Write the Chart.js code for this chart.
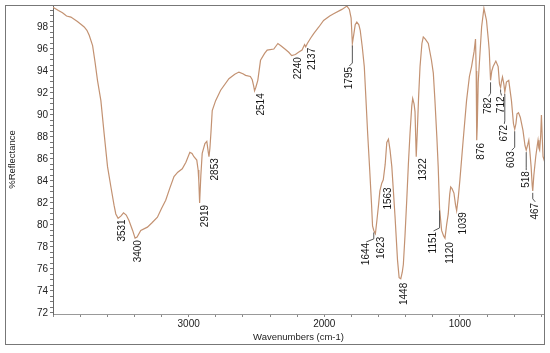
<!DOCTYPE html>
<html>
<head>
<meta charset="utf-8">
<script src="https://cdn.jsdelivr.net/npm/chart.js@4.4.1/dist/chart.umd.min.js"></script>
<style>
  html, body { margin: 0; padding: 0; background: #fff; }
  #wrap { width: 550px; height: 353px; position: relative; }
</style>
</head>
<body>
<div id="wrap"><canvas id="irChart"></canvas></div>
<script>
// spectrum (cm-1 / %R)
const wavenumbers = [
  4000, 3960, 3930, 3900, 3868, 3820, 3790, 3770, 3750, 3733, 3708, 3690, 3672, 3647, 3623, 3598, 3573, 3550, 3537, 3520,
  3500, 3480, 3460, 3440, 3413, 3395, 3380, 3353, 3304, 3270, 3230, 3200, 3169, 3140, 3108, 3080, 3047, 3020, 2991, 2975,
  2961, 2940, 2930, 2925, 2919, 2910, 2900, 2880, 2866, 2855, 2850, 2843, 2835, 2826, 2801, 2764, 2703, 2660, 2629, 2600,
  2580, 2545, 2531, 2520, 2514, 2505, 2490, 2470, 2440, 2421, 2372, 2342, 2320, 2290, 2262, 2240, 2213, 2190, 2164, 2145,
  2137, 2125, 2100, 2078, 2040, 2005, 1960, 1931, 1870, 1833, 1815, 1802, 1793, 1784, 1772, 1760, 1745, 1735, 1720, 1705,
  1693, 1680, 1665, 1652, 1644, 1635, 1623, 1612, 1600, 1590, 1576, 1565, 1551, 1539, 1527, 1515, 1502, 1490, 1478, 1460,
  1448, 1436, 1425, 1417, 1405, 1392, 1380, 1368, 1355, 1348, 1338, 1331, 1322, 1314, 1305, 1294, 1280, 1270, 1255, 1233,
  1210, 1196, 1184, 1170, 1160, 1150, 1135, 1120, 1110, 1098, 1086, 1075, 1068, 1058, 1044, 1032, 1024, 1012, 1000, 976,
  951, 930, 914, 895, 885, 880, 876, 872, 865, 858, 840, 823, 804, 790, 784, 774, 765, 755, 735, 718,
  708, 700, 694, 686, 676, 669, 662, 657, 640, 620, 605, 596, 587, 579, 568, 555, 535, 520, 511, 500,
  492, 483, 475, 467, 463, 455, 441, 430, 424, 418, 412, 405, 399, 393, 387, 382
];
const reflectance = [
  99.8, 99.5, 99.3, 99.0, 98.9, 98.5, 98.2, 98.0, 97.7, 97.25, 96.3, 94.8, 93.15, 91.3, 88.3, 85.3, 83.45, 81.8, 81.0, 80.6,
  80.8, 81.1, 80.9, 80.4, 79.5, 78.8, 78.9, 79.5, 79.8, 80.2, 80.7, 81.5, 82.25, 83.3, 84.4, 84.8, 85.1, 85.7, 86.6, 86.5,
  86.2, 85.9, 85.0, 84.0, 82.0, 84.5, 86.5, 87.4, 87.6, 86.6, 86.2, 87.0, 88.5, 90.4, 91.3, 92.25, 93.3, 93.7, 93.9, 93.75,
  93.6, 93.5, 93.2, 92.6, 92.2, 92.5, 93.15, 94.97, 95.6, 95.9, 96.0, 96.5, 96.3, 96.0, 95.7, 95.4, 95.5, 95.7, 95.9, 96.4,
  96.2, 96.5, 97.0, 97.4, 98.0, 98.6, 99.0, 99.2, 99.6, 99.9, 99.6, 98.8, 96.5, 97.2, 98.2, 98.45, 98.2, 97.7, 96.2, 94.4,
  91.5, 88.3, 85.0, 82.0, 79.9, 79.5, 79.2, 80.4, 81.8, 83.1, 83.8, 84.1, 85.5, 87.5, 87.8, 86.8, 85.3, 83.0, 80.7, 76.8,
  75.2, 75.1, 75.7, 76.4, 79.0, 82.25, 85.5, 88.3, 90.8, 91.5, 91.0, 90.3, 86.2, 88.5, 91.5, 94.4, 96.5, 97.1, 96.9, 96.5,
  95.0, 93.8, 91.3, 88.0, 85.3, 81.5, 79.5, 79.0, 78.8, 80.0, 81.0, 82.8, 83.45, 83.3, 82.9, 81.8, 81.3, 82.5, 84.1, 87.7,
  91.3, 93.5, 94.4, 95.8, 96.9, 94.0, 87.7, 89.0, 93.0, 94.4, 98.0, 99.7, 98.6, 96.8, 95.9, 93.15, 94.0, 94.4, 94.9, 94.4,
  92.8, 92.5, 93.0, 93.45, 92.8, 92.1, 92.6, 93.0, 93.15, 91.3, 89.2, 88.7, 89.2, 90.1, 90.2, 89.8, 88.6, 87.2, 86.8, 87.3,
  87.7, 86.5, 85.3, 83.6, 83.1, 84.5, 86.2, 87.2, 87.7, 87.0, 86.8, 88.0, 90.0, 88.0, 86.2, 86.0
];
const peakLabels = [3531, 3400, 2919, 2853, 2514, 2240, 2137, 1795, 1644, 1623, 1563, 1448, 1322,
  1151, 1120, 1039, 876, 782, 712, 672, 603, 518, 467];
const xTickLabels = [1000, 2000, 3000];
const yTickLabels = [72, 74, 76, 78, 80, 82, 84, 86, 88, 90, 92, 94, 96, 98];

const X_MIN = 380, X_MAX = 4000, Y_MIN = 71.9, Y_MAX = 100;
const FONT = '"Liberation Sans", Arial, sans-serif';

// where each peak label sits relative to its dip: [dx, dy, leader line]
const labelOffsets = {
  3531: [4, 1], 3400: [3, 2], 2919: [5.5, 2], 2853: [6, 1.5], 2514: [6.5, 2.5],
  2240: [6.3, 1.5], 2137: [6.3, 1], 1795: [-3, 23.5, true], 1644: [-7.5, 12.5, true],
  1623: [5.5, 3], 1563: [4.7, 7.5], 1448: [3.6, 4], 1322: [6.8, 1.5],
  1151: [-6, 23.5, true], 1120: [5.7, 4], 1039: [7.2, 7], 876: [4.6, 2.7],
  782: [-2, 17, true], 712: [1, 9, true], 672: [-0.5, 33, true],
  603: [-3, 22, true], 518: [0, 21, true], 467: [2.5, 12, true]
};

// lowest traced point within a few cm-1 of the labelled band
function anchorFor(wn) {
  let best = -1;
  wavenumbers.forEach((w, i) => {
    if (Math.abs(w - wn) <= 12 && (best < 0 || reflectance[i] < reflectance[best])) best = i;
  });
  if (best < 0) {
    let d = Infinity;
    wavenumbers.forEach((w, i) => { if (Math.abs(w - wn) < d) { d = Math.abs(w - wn); best = i; } });
  }
  return { x: wavenumbers[best], y: reflectance[best] };
}

const peakLabelPlugin = {
  id: 'peakLabels',
  afterDatasetsDraw(chart) {
    const { ctx, scales: { x, y } } = chart;
    ctx.save();
    ctx.font = '10px ' + FONT;
    ctx.fillStyle = '#151515';
    ctx.strokeStyle = '#555';
    ctx.lineWidth = 1;
    peakLabels.forEach(wn => {
      const a = anchorFor(wn);
      const px = x.getPixelForValue(a.x);
      const py = y.getPixelForValue(a.y);
      const [dx, dy, leader] = labelOffsets[wn] || [5, 2];
      const lx = px + dx, ly = py + dy;
      if (leader) {
        ctx.beginPath();
        ctx.moveTo(px, py + 2);
        ctx.lineTo(px, Math.max(py + 2, ly - 4));
        ctx.lineTo(lx, ly - 1);
        ctx.stroke();
      }
      ctx.save();
      ctx.translate(lx, ly);
      ctx.rotate(-Math.PI / 2);
      ctx.textAlign = 'right';
      ctx.textBaseline = 'middle';
      ctx.fillText(String(wn), 0, 0);
      ctx.restore();
    });
    ctx.restore();
  },
  afterDraw(chart) {
    const ctx = chart.ctx;
    ctx.save();
    ctx.strokeStyle = '#777';
    ctx.lineWidth = 1;
    ctx.strokeRect(5.5, 5.5, 539, 339);
    ctx.restore();
  }
};

function buildTicks(from, to, step) {
  const out = [];
  for (let v = from; v <= to + 1e-9; v += step) out.push({ value: Math.round(v * 10) / 10 });
  return out;
}

const ctx = document.getElementById('irChart').getContext('2d');
const irChart = new Chart(ctx, {
  type: 'line',
  data: {
    datasets: [{
      data: wavenumbers.map((w, i) => ({ x: w, y: reflectance[i] })),
      borderColor: '#c39272',
      borderWidth: 1.2,
      pointRadius: 0,
      tension: 0,
      fill: false
    }]
  },
  options: {
    responsive: true,
    maintainAspectRatio: false,
    animation: false,
    events: [],
    layout: { padding: { left: 5, right: 6, top: 5, bottom: 9 } },
    plugins: {
      legend: { display: false },
      tooltip: { enabled: false }
    },
    scales: {
      x: {
        type: 'linear',
        reverse: true,
        min: X_MIN,
        max: X_MAX,
        afterBuildTicks: axis => { axis.ticks = buildTicks(400, 4000, 200); },
        afterFit: axis => { axis.height = 30; axis.paddingLeft = 0; axis.paddingRight = 0; },
        grid: { drawOnChartArea: false, drawTicks: true, tickLength: 3, color: '#888' },
        border: { display: true, color: '#999' },
        ticks: {
          autoSkip: false,
          maxRotation: 0,
          padding: 1,
          color: '#222',
          font: { family: FONT, size: 10 },
          callback: v => xTickLabels.includes(v) ? String(v) : ''
        },
        title: {
          display: true,
          text: 'Wavenumbers (cm-1)',
          color: '#222',
          font: { family: FONT, size: 9.5 },
          padding: { top: 0, bottom: 1 }
        }
      },
      y: {
        min: Y_MIN,
        max: Y_MAX,
        afterBuildTicks: axis => { axis.ticks = buildTicks(72, 100, 0.5); },
        afterFit: axis => { axis.width = 48; axis.paddingTop = 0; axis.paddingBottom = 0; },
        grid: { drawOnChartArea: false, drawTicks: true, tickLength: 3, color: '#777' },
        border: { display: true, color: '#666' },
        ticks: {
          autoSkip: false,
          padding: 2,
          color: '#222',
          font: { family: FONT, size: 10 },
          callback: v => yTickLabels.includes(v) ? String(v) : ''
        },
        title: {
          display: true,
          text: '%Reflectance',
          color: '#222',
          font: { family: FONT, size: 9.5 },
          padding: { top: 2, bottom: 0 }
        }
      }
    }
  },
  plugins: [peakLabelPlugin]
});
</script>
</body>
</html>
